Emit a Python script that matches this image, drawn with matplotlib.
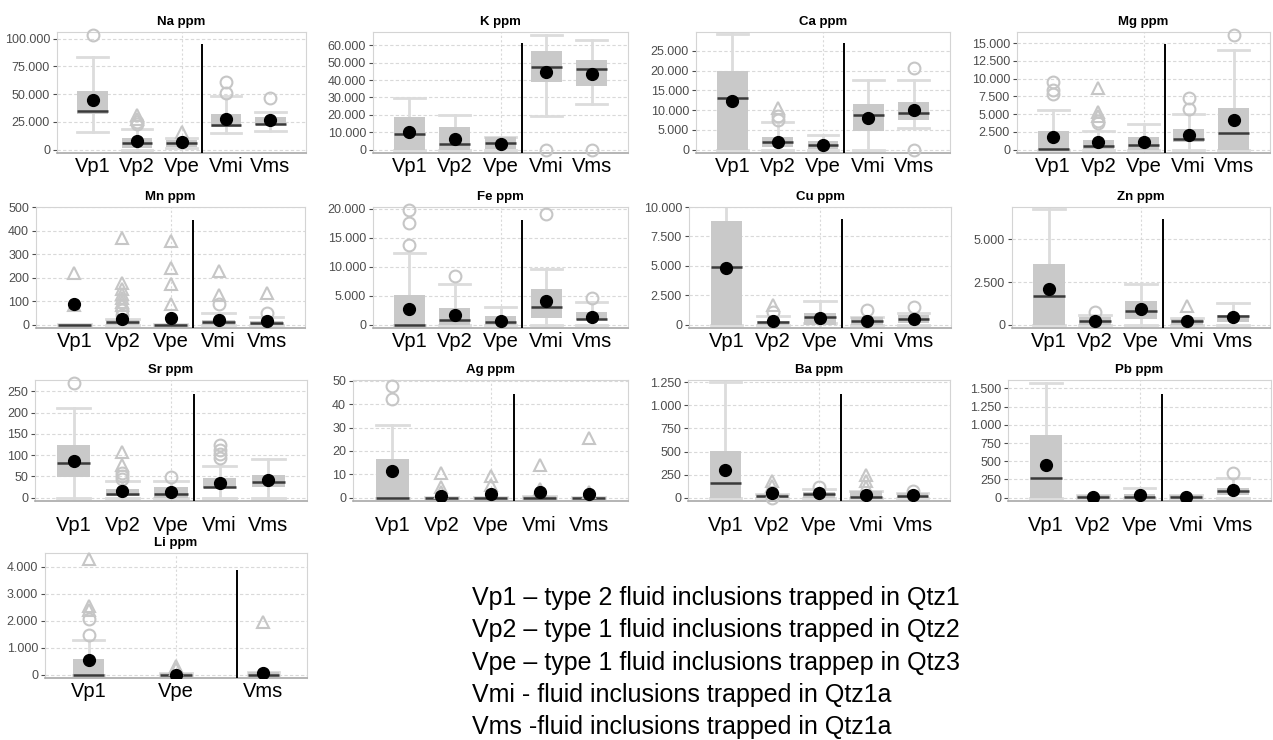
import matplotlib
matplotlib.use("Agg")
import matplotlib.pyplot as plt
import matplotlib.ticker as mticker

plt.rcParams['font.family'] = ['Liberation Sans', 'DejaVu Sans']

ELEMENTS = ['Na', 'K', 'Ca', 'Mg', 'Mn', 'Fe', 'Cu', 'Zn', 'Sr', 'Ag', 'Ba', 'Pb', 'Li']
GROUPS = ['Vp1', 'Vp2', 'Vpe', 'Vmi', 'Vms']
LI_GROUPS = ['Vp1', 'Vpe', 'Vms']

# box statistics per element (rows follow ELEMENTS, columns follow the groups)
Q1 = [
    [32300, 1500, 2400, 20600, 22000],
    [0, 0, 500, 38900, 36600],
    [0, 600, 200, 4700, 7600],
    [0, 150, 0, 1080, 0],
    [0, 0, 0, 0, 0],
    [0, 0, 0, 1160, 750],
    [0, 0, 0, 0, 140],
    [0, 0, 330, 0, 140],
    [48, 4, 0, 22, 25],
    [0, 0, 0, 0, 0],
    [0, 0, 0, 0, 0],
    [0, 0, 0, 0, 41],
    [0, 0, 0],
]
MEDIAN = [
    [35300, 5900, 5900, 22000, 23500],
    [8800, 3200, 3800, 47600, 46100],
    [13000, 1900, 1300, 8700, 9400],
    [50, 470, 700, 1550, 2350],
    [0, 10, 0, 10, 7],
    [0, 870, 460, 3010, 1040],
    [4920, 190, 690, 280, 470],
    [1670, 200, 780, 200, 530],
    [82, 8, 9, 25, 37],
    [0, 0, 0, 0, 0],
    [154, 18, 36, 7, 18],
    [271, 9, 9, 9, 87],
    [0, 0, 0],
]
Q3 = [
    [52900, 10300, 8800, 31800, 29400],
    [18700, 13300, 7200, 56600, 51800],
    [20000, 3200, 2300, 11600, 12000],
    [2580, 1300, 1780, 2860, 5900],
    [3, 20, 3, 21, 14],
    [5040, 2900, 1450, 6080, 2200],
    [8830, 280, 1030, 640, 830],
    [3530, 430, 1370, 330, 570],
    [123, 20, 25, 47, 53],
    [16.4, 0.3, 0.3, 0.8, 0.3],
    [503, 36, 65, 72, 54],
    [858, 41, 55, 32, 138],
    [580, 50, 80],
]
WHISK_LO = [
    [16200, 0, 1500, 15300, 16800],
    [0, 0, 0, 19400, 26100],
    [0, 0, 0, 0, 5500],
    [0, 0, 0, 0, 0],
    [0, 0, 0, 0, 0],
    [0, 0, 0, 0, 0],
    [0, 0, 150, 0, 0],
    [0, 0, 0, 0, 0],
    [0, 0, 0, 0, 0],
    [0, 0, 0, 0, 0],
    [0, 0, 0, 0, 0],
    [0, 0, 0, 0, 0],
    [0, 0, 0],
]
WHISK_HI = [
    [83200, 18200, 10900, 48500, 33800],
    [29900, 20000, 7500, 65700, 62900],
    [29300, 7000, 3600, 17700, 17700],
    [5530, 2580, 3560, 5070, 13980],
    [3, 25, 3, 51, 32],
    [12340, 7070, 3070, 9680, 3880],
    [10500, 750, 2030, 690, 970],
    [6800, 570, 2390, 370, 1250],
    [212, 39, 39, 74, 91],
    [31.2, 0.3, 0.3, 0.8, 0.3],
    [1250, 45, 90, 72, 54],
    [1578, 41, 133, 41, 275],
    [1270, 50, 80],
]
MEAN = [
    [45000, 7900, 6800, 27400, 26500],
    [9900, 6100, 3400, 44800, 43400],
    [12300, 2050, 1300, 8000, 10000],
    [1780, 1080, 1080, 2020, 4130],
    [86, 25, 28, 21, 14],
    [2720, 1740, 700, 4060, 1330],
    [4780, 280, 560, 330, 470],
    [2100, 200, 920, 200, 470],
    [87.5, 16, 14, 35, 41],
    [11.5, 0.8, 1.8, 2.5, 1.4],
    [305, 54, 54, 25, 25],
    [454, 9, 32, 9, 101],
    [550, 0, 50],
]
# outliers (circles) and extreme values (triangles)
OUT_CIRCLE = [
    [[103500], [25000, 23000], [], [61000, 51000], [47000]],
    [[], [], [], [0], [0]],
    [[], [8500, 7500], [], [], [20700, 0]],
    [[9500, 8400, 7900], [4100, 3750], [], [7270, 5770], [16100]],
    [[], [62, 42], [], [90], [51]],
    [[19800, 17500, 13730], [8400], [], [19120], [4630]],
    [[], [1110], [], [1250], [1530]],
    [[], [760], [], [], []],
    [[270], [59, 51, 45], [48], [123, 113, 103, 94], []],
    [[47.9, 42.1], [], [], [], []],
    [[], [0], [115], [], [72]],
    [[], [], [], [], [344]],
    [[2040, 1460], [], []],
]
OUT_TRIANGLE = [
    [[], [31000, 28000], [15500], [], []],
    [[], [], [], [], []],
    [[], [10500], [], [], []],
    [[], [8700, 5300, 4800], [], [], []],
    [[219, 85], [368, 176, 153, 132, 115, 97, 83], [354, 240, 171, 90], [229, 125], [136]],
    [[], [], [], [], []],
    [[], [1670], [], [], []],
    [[], [], [], [1080], []],
    [[], [107, 78], [], [], []],
    [[], [10.6, 4.6, 2.5], [9.4, 5.3], [14, 3.9], [25.4, 2.5]],
    [[], [180, 126], [], [251, 180, 115], []],
    [[], [], [], [], []],
    [[4270, 2540, 2400], [300, 200], [1950]],
]

# axis scale per panel
Y_TOP = [106000, 67600, 29800, 16550, 500, 20300, 10000, 6900, 277, 50.4, 1275, 1615, 4500]
Y_STEP = [25000, 10000, 5000, 2500, 100, 5000, 2500, 2500, 50, 10, 250, 250, 1000]
DIVIDER_TOP = [95600, 61000, 27100, 14900, 444, 18080, 8940, 6180, 244, 44.5, 1120, 1418, 3880]

# panel extents in pixels: left, right and row (top, bottom)
W, H = 1273, 740
LEFT = [57, 373, 696, 1017, 36, 373, 689, 1012, 35, 353, 688, 1008, 45]
RIGHT = [306, 628, 950, 1270, 305, 628, 951, 1270, 307, 628, 950, 1271, 307]
ROWS = [(32, 153), (207, 328), (380, 501), (553, 678)]
LABEL_PAD = [3, 3, 11, 3]

BOX_GREY = '#c9c9c9'
WHISK_GREY = '#dcdcdc'
FLIER_GREY = '#c6c6c6'


def thousands(v, pos=None):
    return f'{v:,.0f}'.replace(',', '.')


fig = plt.figure(figsize=(W / 100, H / 100), dpi=100)

for i, el in enumerate(ELEMENTS):
    row = i // 4
    top_px, bot_px = ROWS[row]
    ax = fig.add_axes([LEFT[i] / W, 1 - bot_px / H,
                       (RIGHT[i] - LEFT[i]) / W, (bot_px - top_px) / H])
    groups = LI_GROUPS if el == 'Li' else GROUPS
    n = len(groups)
    width = 0.36 if el == 'Li' else 0.68
    margin = 0.5 if el == 'Li' else 0.8

    stats = []
    for j, g in enumerate(groups):
        stats.append({
            'label': g,
            'q1': Q1[i][j], 'med': MEDIAN[i][j], 'q3': Q3[i][j],
            'whislo': WHISK_LO[i][j], 'whishi': WHISK_HI[i][j],
            'mean': MEAN[i][j], 'fliers': [],
        })
    pos = list(range(n))
    ax.bxp(stats, positions=pos, widths=width, capwidths=width,
           patch_artist=True, showmeans=True, showfliers=False,
           boxprops=dict(facecolor=BOX_GREY, edgecolor='none', zorder=2),
           whiskerprops=dict(color=WHISK_GREY, linewidth=2.0, zorder=1),
           capprops=dict(color=WHISK_GREY, linewidth=2.0, zorder=1),
           medianprops=dict(color='#3a3a3a', linewidth=1.8, zorder=3),
           meanprops=dict(marker='o', markerfacecolor='black',
                          markeredgecolor='black', markersize=8.5, zorder=5))

    for j in range(n):
        circ = OUT_CIRCLE[i][j]
        tri = OUT_TRIANGLE[i][j]
        if circ:
            ax.plot([j] * len(circ), circ, linestyle='none', marker='o',
                    markersize=8.5, markerfacecolor='none',
                    markeredgecolor=FLIER_GREY, markeredgewidth=1.5,
                    zorder=4, clip_on=False)
        if tri:
            ax.plot([j] * len(tri), tri, linestyle='none', marker='^',
                    markersize=8.5, markerfacecolor='none',
                    markeredgecolor=FLIER_GREY, markeredgewidth=1.5,
                    zorder=4, clip_on=False)

    ybot = -0.028 * Y_TOP[i]
    ax.set_ylim(ybot, Y_TOP[i])
    ax.set_xlim(-margin, n - 1 + margin)
    ax.yaxis.set_major_locator(mticker.MultipleLocator(Y_STEP[i]))
    ax.yaxis.set_major_formatter(mticker.FuncFormatter(thousands))

    # group divider between the Vp* and Vm* inclusions
    xdiv = 1.7 if el == 'Li' else 2.47
    ax.plot([xdiv, xdiv], [ybot, DIVIDER_TOP[i]], color='black',
            linewidth=1.4, zorder=6, solid_capstyle='butt')

    ax.grid(axis='y', color='#d9d9d9', linestyle=(0, (3, 2)), linewidth=0.8)
    ax.axvline((n - 1) / 2, color='#d9d9d9', linestyle=(0, (2, 2)),
               linewidth=0.8, zorder=0)
    ax.set_axisbelow(True)

    ax.set_title(f'{el} ppm', fontsize=9.5, fontweight='bold', pad=5)
    ax.set_xticks(pos)
    ax.set_xticklabels(groups, fontsize=14.5)
    ax.tick_params(axis='x', length=0, pad=LABEL_PAD[row], colors='black')
    ax.tick_params(axis='y', labelsize=9, colors='#4d4d4d', length=3,
                   width=0.8, pad=2)
    for side in ['top', 'right', 'left']:
        ax.spines[side].set_color('#d4d4d4')
    ax.spines['bottom'].set_color('#a8a8a8')
    ax.spines['bottom'].set_linewidth(1.2)

LEGEND = [
    'Vp1 \u2013 type 2 fluid inclusions trapped in Qtz1',
    'Vp2 \u2013 type 1 fluid inclusions trapped in Qtz2',
    'Vpe \u2013 type 1 fluid inclusions trappep in Qtz3',
    'Vmi - fluid inclusions trapped in Qtz1a',
    'Vms -fluid inclusions trapped in Qtz1a',
]
for k, line in enumerate(LEGEND):
    fig.text(472 / W, 1 - (598 + 32.3 * k) / H, line, fontsize=18,
             ha='left', va='center', color='black')

fig.savefig('out.png', dpi=100)
